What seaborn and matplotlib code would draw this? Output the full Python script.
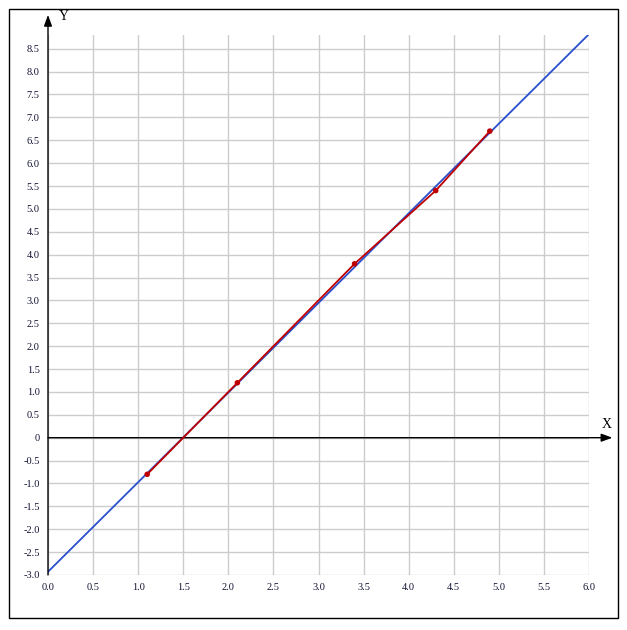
import matplotlib
matplotlib.use("Agg")
import matplotlib.pyplot as plt
import seaborn as sns
import numpy as np
import pandas as pd
from matplotlib.patches import Rectangle

# Data
points_x = [1.1, 2.1, 3.4, 4.3, 4.9]
points_y = [-0.8, 1.2, 3.8, 5.4, 6.7]
fit_x = [0.0, 6.0]
fit_y = [-2.93, 8.82]
x_ticks = [0.0, 0.5, 1.0, 1.5, 2.0, 2.5, 3.0, 3.5, 4.0, 4.5, 5.0, 5.5, 6.0]
y_ticks = [-3.0, -2.5, -2.0, -1.5, -1.0, -0.5, 0.0, 0.5, 1.0, 1.5, 2.0, 2.5, 3.0,
           3.5, 4.0, 4.5, 5.0, 5.5, 6.0, 6.5, 7.0, 7.5, 8.0, 8.5]
x_labels = [f"{v:.1f}" for v in x_ticks]
y_labels = ["0" if v == 0 else f"{v:.1f}" for v in y_ticks]

sns.set_theme(style="white")
plt.rcParams['font.family'] = ['Liberation Serif', 'DejaVu Serif']

fig = plt.figure(figsize=(6.27, 6.30), dpi=100)
ax = fig.add_axes([48/627, 1 - 575/630, (589-48)/627, (575-35)/630])

pts = pd.DataFrame({"x": points_x, "y": points_y})
fit = pd.DataFrame({"x": fit_x, "y": fit_y})

sns.lineplot(data=fit, x="x", y="y", ax=ax, color="#2a4fcc", linewidth=1.3, zorder=3)
sns.lineplot(data=pts, x="x", y="y", ax=ax, color="#c00000", linewidth=1.3, zorder=4, sort=False)
sns.scatterplot(data=pts, x="x", y="y", ax=ax, color="#c00000", s=16, edgecolor="none", zorder=5)

ax.set_xlim(0, 6.0)
ax.set_ylim(-3.0, 8.8)
ax.set_xticks(x_ticks)
ax.set_xticklabels(x_labels)
ax.set_yticks(y_ticks)
ax.set_yticklabels(y_labels)
ax.tick_params(axis="both", length=0, labelsize=7.5, colors="#111133")
ax.tick_params(axis="y", pad=6)
ax.tick_params(axis="x", pad=6)
ax.grid(True, color="#cccccc", linewidth=1.0)
ax.set_axisbelow(True)
for s in ax.spines.values():
    s.set_visible(False)
ax.set_xlabel("")
ax.set_ylabel("")

# Axis arrows
arrow_style = "-|>,head_length=0.55,head_width=0.2"
ax.annotate("", xy=(6.26, 0), xytext=(0, 0), xycoords="data",
            arrowprops=dict(arrowstyle=arrow_style, color="black", lw=1.0,
                            shrinkA=0, shrinkB=0), annotation_clip=False)
ax.annotate("", xy=(0, 9.24), xytext=(0, -3.0), xycoords="data",
            arrowprops=dict(arrowstyle=arrow_style, color="black", lw=1.0,
                            shrinkA=0, shrinkB=0), annotation_clip=False)
fig.text(607/627, 1 - 424/630, "X", ha="center", va="center", fontsize=10, color="black")
fig.text(64/627, 1 - 17/630, "Y", ha="center", va="center", fontsize=10, color="black")

# Frame
fig.patches.append(Rectangle((9/627, 1 - 618/630), 609/627, 609/630, transform=fig.transFigure,
                             fill=False, edgecolor="black", linewidth=1.0))

fig.savefig("out.png", dpi=100)
